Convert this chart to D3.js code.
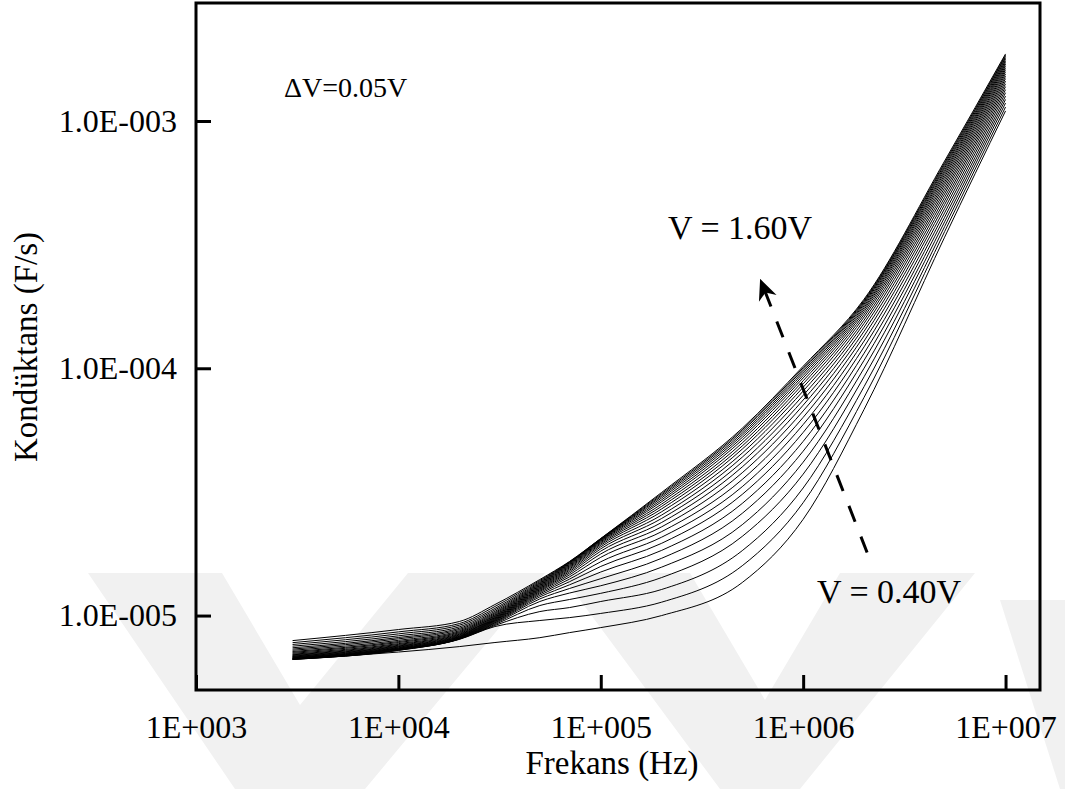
<!DOCTYPE html>
<html>
<head>
<meta charset="utf-8">
<script src="https://cdn.jsdelivr.net/npm/d3@7"></script>
<style>
  body { margin: 0; background: #fff; }
  svg text { fill: #000; }
</style>
</head>
<body>
<svg id="chart" width="1065" height="789"></svg>
<script>
const FONT = "'Liberation Serif', 'Times New Roman', Tinos, 'DejaVu Serif', serif";

// frequenties (Hz) en spanningen (V)
const freqs = [3e3, 1e4, 2e4, 3e4, 5e4, 7e4, 1e5, 2e5, 5e5, 1e6, 2e6, 5e6, 1e7];
const voltages = [0.40, 0.45, 0.50, 0.55, 0.60, 0.65, 0.70, 0.75, 0.80, 0.85, 0.90, 0.95, 1.00,
  1.05, 1.10, 1.15, 1.20, 1.25, 1.30, 1.35, 1.40, 1.45, 1.50, 1.55, 1.60];

// conductantie in µS (x 1e-6 F/s), per frequentie, van 0.40V tot 1.60V
const g3k = [6.64, 6.65, 6.66, 6.67, 6.69, 6.70, 6.72, 6.75, 6.77, 6.80, 6.83, 6.86, 6.90,
  6.94, 6.98, 7.04, 7.10, 7.16, 7.24, 7.32, 7.41, 7.52, 7.64, 7.77, 7.92];
const g10k = [7.12, 7.23, 7.24, 7.26, 7.28, 7.31, 7.33, 7.35, 7.38, 7.41, 7.45, 7.49, 7.53,
  7.58, 7.64, 7.70, 7.78, 7.85, 7.94, 8.05, 8.15, 8.28, 8.43, 8.59, 8.78];
const g20k = [7.49, 8.01, 8.03, 8.04, 8.06, 8.08, 8.10, 8.12, 8.15, 8.19, 8.22, 8.25, 8.30,
  8.35, 8.40, 8.46, 8.53, 8.60, 8.68, 8.78, 8.88, 9.00, 9.14, 9.28, 9.46];
const g30k = [7.78, 9.03, 9.12, 9.20, 9.28, 9.35, 9.41, 9.47, 9.53, 9.58, 9.63, 9.69, 9.74,
  9.80, 9.86, 9.93, 10.00, 10.08, 10.18, 10.28, 10.40, 10.54, 10.69, 10.88, 11.08];
const g50k = [8.14, 9.55, 10.38, 10.98, 11.40, 11.68, 11.90, 12.08, 12.24, 12.38, 12.51, 12.62, 12.73,
  12.83, 12.92, 13.02, 13.12, 13.22, 13.31, 13.41, 13.51, 13.61, 13.73, 13.86, 13.99];
const g70k = [8.53, 9.81, 10.77, 11.61, 12.33, 12.86, 13.31, 13.70, 14.03, 14.33, 14.60, 14.84, 15.05,
  15.24, 15.42, 15.59, 15.74, 15.88, 16.01, 16.13, 16.24, 16.33, 16.41, 16.48, 16.54];
const g100k = [8.94, 10.20, 11.40, 12.30, 13.20, 14.10, 15.00, 15.80, 16.50, 17.20, 17.75, 18.22, 18.62,
  18.96, 19.25, 19.49, 19.70, 19.89, 20.05, 20.18, 20.28, 20.36, 20.42, 20.47, 20.50];
const g200k = [10.0, 11.33, 12.75, 14.25, 15.70, 17.05, 18.35, 19.60, 20.75, 21.85, 22.85, 23.80, 24.70,
  25.50, 26.30, 27.00, 27.65, 28.25, 28.86, 29.38, 29.90, 30.36, 30.75, 31.12, 31.48];
const g500k = [13.6, 15.9, 18.3, 20.9, 23.3, 25.9, 28.4, 30.9, 33.2, 35.5, 37.8, 39.9, 41.8,
  43.7, 45.4, 47.1, 48.5, 49.9, 51.3, 52.5, 53.6, 54.6, 55.6, 56.4, 57.2];
const g1M = [24.5, 28.6, 32.8, 37.3, 41.7, 46.2, 50.6, 55.0, 59.2, 63.3, 67.2, 70.9, 74.4,
  77.7, 80.9, 83.8, 86.5, 89.0, 91.4, 93.5, 95.5, 97.3, 99.0, 100.5, 101.9];
const g2M = [68.2, 76.3, 84.3, 92.4, 100.1, 107.7, 115.0, 122.1, 128.8, 135.2, 141.1, 146.7, 151.9,
  156.6, 161.2, 165.3, 169.2, 172.7, 175.9, 178.9, 181.8, 184.2, 186.4, 188.3, 190.3];
const g5M = [339, 357, 374, 391, 408, 425, 442, 459, 475, 491, 507, 522, 537,
  552, 566, 580, 594, 607, 620, 632, 645, 656, 668, 678, 689];
const g10M = [1098, 1139, 1182, 1222, 1261, 1301, 1339, 1377, 1413, 1449, 1484, 1517, 1550,
  1582, 1613, 1642, 1672, 1700, 1725, 1751, 1776, 1801, 1824, 1845, 1867];

const xTickLabels = ["1E+003", "1E+004", "1E+005", "1E+006", "1E+007"];
const yTickLabels = ["1.0E-005", "1.0E-004", "1.0E-003"];

const rows = [g3k, g10k, g20k, g30k, g50k, g70k, g100k, g200k, g500k, g1M, g2M, g5M, g10M];
const series = voltages.map((v, i) => freqs.map((f, j) => ({ f: f, g: rows[j][i] * 1e-6 })));

const plot = { left: 196, right: 1040, top: 3, bottom: 690 };

const svg = d3.select('#chart');

// licht watermerk op de achtergrond
const wm = svg.append('g').attr('fill', '#f1f1f1');
[
  [[88, 573], [222, 573], [300, 705], [408, 573], [545, 573], [365, 789], [235, 789]],
  [[560, 573], [690, 573], [765, 700], [840, 573], [975, 573], [800, 789], [720, 789]],
  [[1000, 600], [1065, 600], [1065, 789], [1060, 789]]
].forEach(p => wm.append('polygon').attr('points', p.map(d => d.join(',')).join(' ')));

const x = d3.scaleLog().domain([1e3, 1.48e7]).range([plot.left, plot.right]);
const y = d3.scaleLog().domain([5e-6, 3e-3]).range([plot.bottom, plot.top]);

const xMajor = [1e3, 1e4, 1e5, 1e6, 1e7];
const yMajor = [1e-5, 1e-4, 1e-3];

// kleine ticks
const xMinor = x.ticks().filter(t => !xMajor.includes(t));
const yMinor = y.ticks().filter(t => !yMajor.some(m => Math.abs(m - t) / m < 1e-9));

const gx = svg.append('g').attr('transform', `translate(0,${plot.bottom})`);
gx.call(d3.axisBottom(x).tickValues(xMinor).tickSize(-7).tickFormat(''));
gx.call(d3.axisBottom(x).tickValues(xMajor).tickSize(-15).tickPadding(25)
  .tickFormat((d, i) => xTickLabels[i]));

const gy = svg.append('g').attr('transform', `translate(${plot.left},0)`);
gy.call(d3.axisLeft(y).tickValues(yMinor).tickSize(-7).tickFormat(''));
gy.call(d3.axisLeft(y).tickValues(yMajor).tickSize(-15).tickPadding(19)
  .tickFormat((d, i) => yTickLabels[i]));

svg.selectAll('g').attr('font-family', null);
svg.selectAll('.domain').remove();
svg.selectAll('.tick line').attr('stroke', '#000').attr('stroke-width', 3);
svg.selectAll('.tick text').attr('font-size', 32).style('font-family', FONT).attr('fill', '#000');
gx.selectAll('.tick text').attr('dy', '0.71em');

// de curves
const line = d3.line()
  .x(d => x(d.f))
  .y(d => y(d.g))
  .curve(d3.curveMonotoneX);

svg.append('g')
  .selectAll('path')
  .data(series)
  .join('path')
  .attr('d', line)
  .attr('fill', 'none')
  .attr('stroke', '#000')
  .attr('stroke-width', 1);

// kader
svg.append('rect')
  .attr('x', plot.left).attr('y', plot.top)
  .attr('width', plot.right - plot.left).attr('height', plot.bottom - plot.top)
  .attr('fill', 'none').attr('stroke', '#000').attr('stroke-width', 3);

// pijl
svg.append('defs').append('marker')
  .attr('id', 'kop')
  .attr('viewBox', '0 0 10 10')
  .attr('refX', 5).attr('refY', 5)
  .attr('markerWidth', 7).attr('markerHeight', 7)
  .attr('orient', 'auto')
  .append('path').attr('d', 'M0,0.5 L10,5 L0,9.5 L3,5 z').attr('fill', '#000');

svg.append('line')
  .attr('x1', x(2.07e6)).attr('y1', y(1.8e-5))
  .attr('x2', x(6.4e5)).attr('y2', y(2.1e-4))
  .attr('stroke', '#000').attr('stroke-width', 3)
  .attr('stroke-dasharray', '17,16')
  .attr('marker-end', 'url(#kop)');

// teksten
const label = (tx, ty, size, s) => svg.append('text')
  .attr('x', tx).attr('y', ty).attr('font-size', size)
  .style('font-family', FONT).text(s);

label(284, 97, 28, '\u0394V=0.05V');
label(668, 239, 34, 'V = 1.60V');
label(817, 603, 34, 'V = 0.40V');

label(612, 774, 33, 'Frekans (Hz)').attr('text-anchor', 'middle');

svg.append('text')
  .attr('transform', 'translate(37,347) rotate(-90)')
  .attr('text-anchor', 'middle').attr('font-size', 33)
  .style('font-family', FONT)
  .text('Kondüktans (F/s)');
</script>
</body>
</html>
